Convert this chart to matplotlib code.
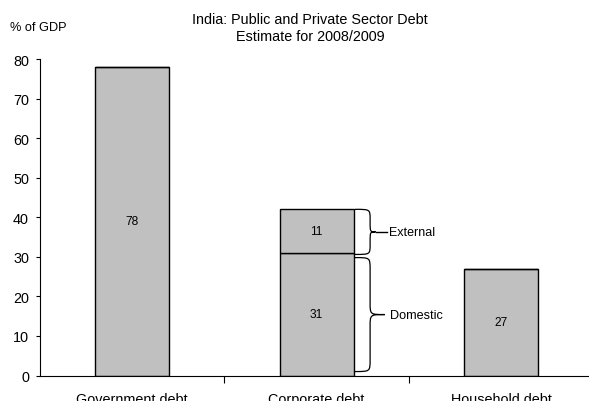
import matplotlib
matplotlib.use("Agg")
import matplotlib.pyplot as plt
from matplotlib.path import Path
from matplotlib.patches import PathPatch

plt.rcParams['font.family'] = ['Liberation Sans', 'DejaVu Sans']

categories = ["Government debt", "Corporate debt", "Household debt"]
domestic = [78, 31, 27]
external = [0, 11, 0]
y_ticks = [0, 10, 20, 30, 40, 50, 60, 70, 80]

fig = plt.figure(figsize=(5.89, 4.02), dpi=100)
ax = fig.add_axes([40 / 589, 25.5 / 402, 549 / 589, 316.5 / 402])

x = list(range(len(categories)))
width = 0.40
grey = "#C0C0C0"

ax.bar(x, domestic, width=width, color=grey, edgecolor="black", linewidth=1.0)
ax.bar(x, external, width=width, bottom=domestic, color=grey,
       edgecolor="black", linewidth=1.0)

# value labels in the middle of each segment
for xi, d, e in zip(x, domestic, external):
    ax.text(xi, d / 2, f"{d}", ha="center", va="center", fontsize=8.6)
    if e:
        ax.text(xi, d + e / 2, f"{e}", ha="center", va="center", fontsize=8.6)


def brace(ax, x0, x1, xtip, y_bot, y_top, r):
    """Right-facing curly brace spanning y_bot..y_top."""
    ym = (y_bot + y_top) / 2
    verts = [
        (x0, y_top),
        (x1, y_top), (x1, y_top), (x1, y_top - r),
        (x1, ym + r),
        (x1, ym), (x1, ym), (xtip, ym),
        (x1, ym), (x1, ym), (x1, ym - r),
        (x1, y_bot + r),
        (x1, y_bot), (x1, y_bot), (x0, y_bot),
    ]
    codes = [Path.MOVETO,
             Path.CURVE4, Path.CURVE4, Path.CURVE4,
             Path.LINETO,
             Path.CURVE4, Path.CURVE4, Path.CURVE4,
             Path.CURVE4, Path.CURVE4, Path.CURVE4,
             Path.LINETO,
             Path.CURVE4, Path.CURVE4, Path.CURVE4]
    ax.add_patch(PathPatch(Path(verts, codes), fill=False, lw=0.9,
                           edgecolor="black", clip_on=False))


corp = 1
bx0 = corp + width / 2 + 0.008
bx1 = corp + width / 2 + 0.09
btip = corp + width / 2 + 0.17

top_corp = domestic[corp] + external[corp]
brace(ax, bx0, bx1, bx1 + 0.03, domestic[corp] - 0.4, top_corp, 2.5)
ax.plot([bx1 + 0.03, bx1 + 0.09], [(domestic[corp] - 0.4 + top_corp) / 2] * 2,
        color="black", lw=1.0, clip_on=False)
brace(ax, bx0, bx1, btip, 1.0, domestic[corp] - 1.2, 3.0)

ax.text(bx1 + 0.105, (domestic[corp] - 0.4 + top_corp) / 2, "External",
        ha="left", va="center", fontsize=9)
ax.text(btip + 0.03, (1.0 + domestic[corp] - 1.2) / 2, "Domestic",
        ha="left", va="center", fontsize=9.1)

ax.set_xlim(-0.5, 2.477)
ax.set_ylim(0, 80)
ax.set_yticks(y_ticks)
ax.tick_params(axis="y", direction="out", length=3, width=0.8,
               labelsize=10.4, pad=5)

# category labels at centres, tick marks at the boundaries between them
ax.set_xticks(x)
ax.set_xticklabels(categories)
ax.set_xticks([0.5, 1.5], minor=True)
ax.tick_params(axis="x", which="major", length=0, labelsize=10.4, pad=12)
ax.tick_params(axis="x", which="minor", direction="out", length=5, width=0.8)

for s in ("top", "right"):
    ax.spines[s].set_visible(False)
for s in ("left", "bottom"):
    ax.spines[s].set_linewidth(0.8)

fig.text(310 / 589, 1 - 20.5 / 402, "India: Public and Private Sector Debt",
         ha="center", va="center", fontsize=10.4)
fig.text(310 / 589, 1 - 37 / 402, "Estimate for 2008/2009",
         ha="center", va="center", fontsize=10.4)
fig.text(10 / 589, 1 - 28 / 402, "% of GDP", ha="left", va="center",
         fontsize=9.2)

fig.savefig("out.png", dpi=100)
